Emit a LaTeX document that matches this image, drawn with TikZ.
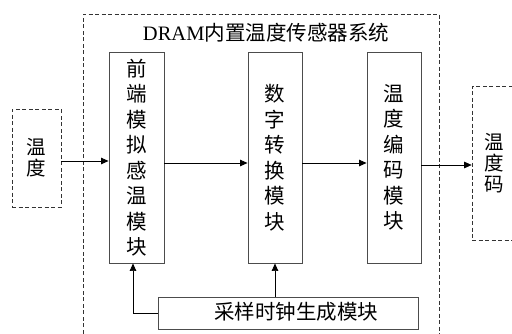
\documentclass[tikz,border=0pt]{standalone}
\usepackage{fontspec}
\setmainfont{Liberation Serif}
\newfontfamily\cjk{Noto Sans CJK SC}
\usetikzlibrary{arrows.meta}
\tikzset{
  modbox/.style={draw=black!70, line width=0.9pt, minimum width=54pt, minimum height=211pt, inner sep=0pt, align=center, font=\cjk\fontsize{20.5}{25.5}\selectfont},
  dbox/.style={draw=black!80, line width=0.7pt, dash pattern=on 4pt off 2.5pt, inner sep=0pt, align=center, font=\cjk\fontsize{19.5}{21}\selectfont},
  plainbox/.style={draw=black!70, line width=0.9pt, inner sep=0pt},
  arr/.style={draw=black, line width=0.7pt, -{Triangle[length=7.5pt,width=6.5pt]}},
  outline/.style={draw=black!80, line width=0.7pt, dash pattern=on 4pt off 2.5pt}
}
\begin{document}
\begin{tikzpicture}[x=1pt,y=-1pt]
\useasboundingbox (0,0) rectangle (512,333);
% outer system boundary (open at bottom)
\coordinate (o1) at (83,340);
\coordinate (o2) at (83,14);
\coordinate (o3) at (439,14);
\coordinate (o4) at (439,340);
\draw[outline] (o1) -- (o2) -- (o3) -- (o4);
\node[font=\fontsize{20.5}{23}\selectfont, inner sep=0pt] (title) at (266,33) {DRAM{\cjk 内置温度传感器系统}};
% boxes
\node[dbox, minimum width=49pt, minimum height=98pt] (lbox) at (36.5,158) {温\\度};
\node[dbox, minimum width=44pt, minimum height=154pt] (rbox) at (494,163) {温\\度\\码};
\node[modbox, minimum width=55pt] (m1) at (136.5,157.5) {前\\端\\模\\拟\\感\\温\\模\\块};
\node[modbox] (m2) at (275,157.5) {数\\字\\转\\换\\模\\块};
\node[modbox] (m3) at (394,157.5) {温\\度\\编\\码\\模\\块};
\node[plainbox, minimum width=260pt, minimum height=32pt] (clk) at (288,313) {};
\node[font=\cjk\fontsize{20.5}{24}\selectfont, inner sep=0pt] (clkt) at (296,312) {采样时钟生成模块};
% signal levels
\coordinate (ya) at (0,161);
\coordinate (yb) at (0,163);
\coordinate (yc) at (0,165);
\coordinate (xa) at (133,0);
\coordinate (xb) at (275,0);
\coordinate (cor) at (133,313);
% connectors
\draw[arr] (lbox.east |- ya) -- (m1.west |- ya);
\draw[arr] (m1.east |- yb) -- (m2.west |- yb);
\draw[arr] (m2.east |- yb) -- (m3.west |- yb);
\draw[arr] (m3.east |- yc) -- (rbox.west |- yc);
\draw[arr] (clk.north -| xb) -- (m2.south -| xb);
\draw[arr] (clk.west |- cor) -- (cor) -- (m1.south -| xa);
\end{tikzpicture}
\end{document}
